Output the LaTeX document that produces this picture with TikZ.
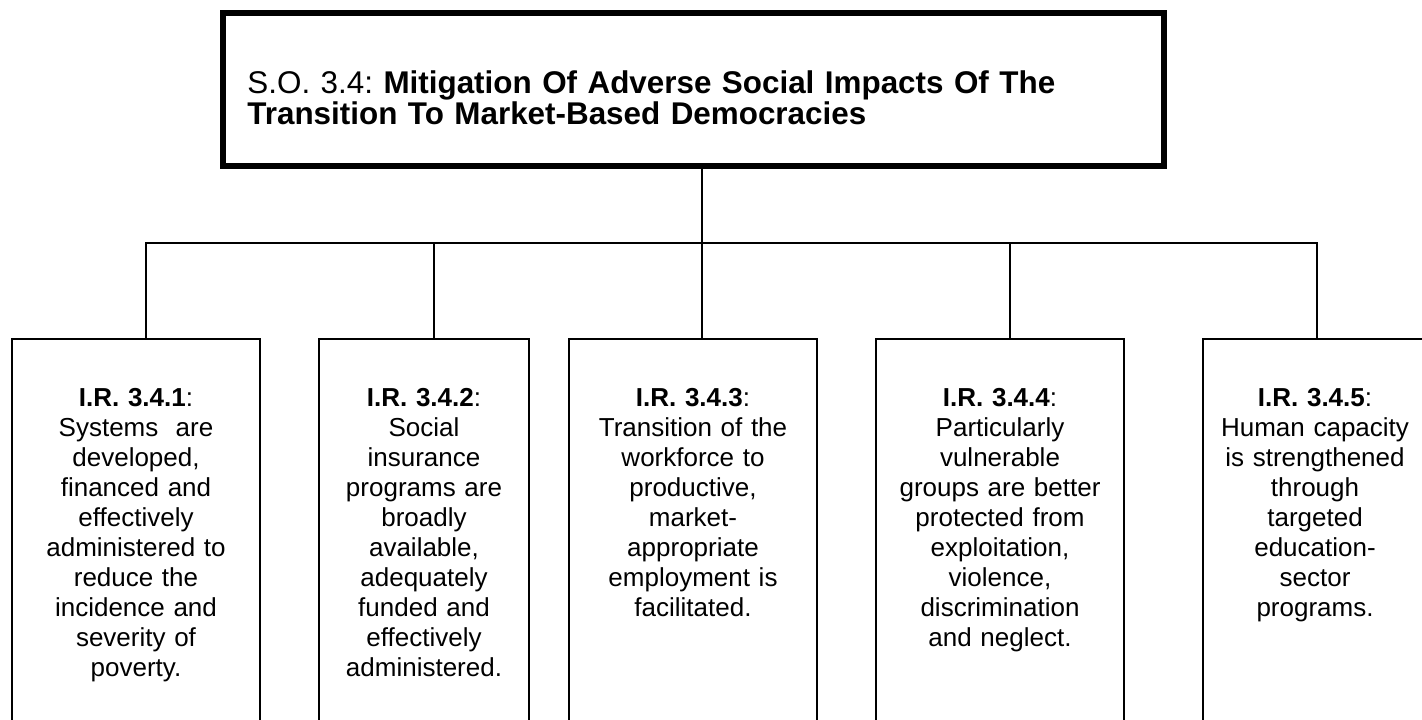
\documentclass[tikz,border=0pt]{standalone}
\usepackage{fontspec}
\setmainfont{Liberation Sans}
\frenchspacing
\usetikzlibrary{positioning}
\tikzset{
	ziel/.style={draw, line width=3pt, minimum width=470.5pt, minimum height=76.5pt, inner sep=0pt},
	kasten/.style={minimum height=200pt, inner sep=0pt, anchor=north},
	kastentext/.style={text width=122pt, align=center, anchor=base, inner sep=0pt, font=\fontsize{13}{15}\selectfont},
	linie/.style={line width=1pt}
}
\begin{document}
\begin{tikzpicture}[x=0.5pt, y=-0.5pt]
	\useasboundingbox (0,0) rectangle (1422,719);
	% Oberziel
	\node [ziel] (goal) at (693.5,89.5) {};
	\node [anchor=base west, text width=440pt, align=left, inner sep=0pt, font=\fontsize{15.7}{15.6}\selectfont] (goaltext) at (247,93)
		{S.O. 3.4: \textbf{Mitigation Of Adverse Social Impacts Of The}\\\textbf{Transition To Market-Based Democracies}};
	%Kaesten unten (unten offen)
	\foreach \n/\mx/\w in {1/136/124, 2/424/105, 3/693/124, 4/1000/124, 5/1327/124} {
		\node [kasten, minimum width=\w pt] (box\n) at (\mx,339) {};
		\draw [linie] (box\n.south west) |- (box\n.north east) -- (box\n.south east);
	}
	% Anschlusspunkte der Kaesten
	\coordinate (fuss1) at (146,339);
	\coordinate (fuss2) at (434,339);
	\coordinate (fuss3) at (702,339);
	\coordinate (fuss4) at (1010,339);
	\coordinate (fuss5) at (1317,339);
	\coordinate (bus) at (702,243);
	% Verbindungen
	\draw [linie] (goal.south -| bus) -- (fuss3);
	\draw [linie] (fuss1) |- (bus) -| (fuss5);
	\foreach \n in {2,4} {
		\draw [linie] (bus -| fuss\n) -- (fuss\n);
	}
	% Texte
	\node [kastentext] (ir1) at (136,406) {\textbf{I.R. 3.4.1}:\\Systems\ \ are\\developed,\\financed and\\effectively\\administered to\\reduce the\\incidence and\\severity of\\poverty.};
	\node [kastentext] (ir2) at (424,406) {\textbf{I.R. 3.4.2}:\\Social\\insurance\\programs are\\broadly\\available,\\adequately\\funded and\\effectively\\administered.};
	\node [kastentext] (ir3) at (693,406) {\textbf{I.R. 3.4.3}:\\Transition of the\\workforce to\\productive,\\market-\\appropriate\\employment is\\facilitated.};
	\node [kastentext] (ir4) at (1000,406) {\textbf{I.R. 3.4.4}:\\Particularly\\vulnerable\\groups are better\\protected from\\exploitation,\\violence,\\discrimination\\and neglect.};
	\node [kastentext] (ir5) at (1315,406) {\textbf{I.R. 3.4.5}:\\Human capacity\\is strengthened\\through\\targeted\\education-\\sector\\programs.};
\end{tikzpicture}
\end{document}
